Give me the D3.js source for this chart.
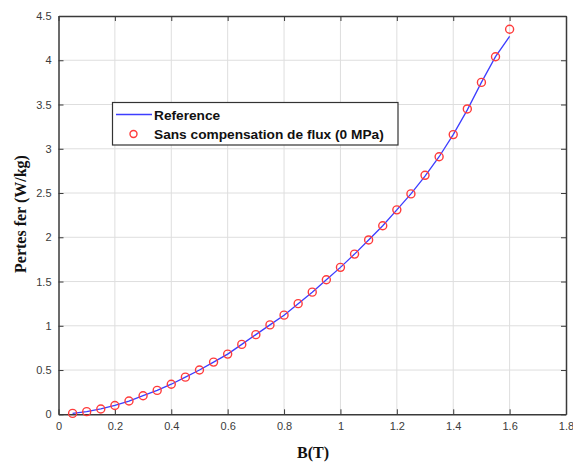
<!DOCTYPE html>
<html>
<head>
<meta charset="utf-8">
<script src="https://cdn.jsdelivr.net/npm/d3@7"></script>
<style>
html,body{margin:0;padding:0;background:#fff;}
svg{display:block;}
</style>
</head>
<body>
<script>
const bValues = [0.05,0.10,0.15,0.20,0.25,0.30,0.35,0.40,0.45,0.50,0.55,0.60,0.65,0.70,0.75,0.80,0.85,0.90,0.95,1.00,1.05,1.10,1.15,1.20,1.25,1.30,1.35,1.40,1.45,1.50,1.55,1.60];
const referenceLosses = [0.01,0.03,0.06,0.10,0.15,0.21,0.27,0.34,0.42,0.50,0.59,0.68,0.79,0.90,1.01,1.12,1.25,1.38,1.52,1.66,1.81,1.97,2.13,2.31,2.49,2.69,2.91,3.16,3.44,3.75,4.04,4.27];
const sansCompLosses = [0.01,0.03,0.06,0.10,0.15,0.21,0.27,0.34,0.42,0.50,0.59,0.68,0.79,0.90,1.01,1.12,1.25,1.38,1.52,1.66,1.81,1.97,2.13,2.31,2.49,2.70,2.91,3.16,3.45,3.75,4.04,4.35];
const xTicks = [0,0.2,0.4,0.6,0.8,1,1.2,1.4,1.6,1.8];
const xTickLabels = ["0","0.2","0.4","0.6","0.8","1","1.2","1.4","1.6","1.8"];
const yTicks = [0,0.5,1,1.5,2,2.5,3,3.5,4,4.5];
const yTickLabels = ["0","0.5","1","1.5","2","2.5","3","3.5","4","4.5"];
const seriesNames = ["Reference","Sans compensation de flux (0 MPa)"];

const W=573,H=464;
const L=58.5,R=566,T=16,B=414.3;
const svg=d3.select("body").append("svg").attr("width",W).attr("height",H);
const x=d3.scaleLinear().domain([0,1.8]).range([L,R]);
const y=d3.scaleLinear().domain([0,4.5]).range([B,T]);

// grid
const g=svg.append("g");
g.selectAll(".gx").data(xTicks.slice(1,-1)).enter().append("line")
 .attr("x1",d=>x(d)).attr("x2",d=>x(d)).attr("y1",T).attr("y2",B)
 .attr("stroke","#dedede").attr("stroke-width",1);
g.selectAll(".gy").data(yTicks.slice(1,-1)).enter().append("line")
 .attr("y1",d=>y(d)).attr("y2",d=>y(d)).attr("x1",L).attr("x2",R)
 .attr("stroke","#dedede").attr("stroke-width",1);

// axes
const axColor="#3a3a3a";
const fmtX=(d,i)=>xTickLabels[i], fmtY=(d,i)=>yTickLabels[i];
const axB=svg.append("g").attr("transform",`translate(0,${B})`)
 .call(d3.axisBottom(x).tickValues(xTicks).tickFormat(fmtX).tickSizeInner(-5).tickSizeOuter(0).tickPadding(8));
const axT=svg.append("g").attr("transform",`translate(0,${T})`)
 .call(d3.axisTop(x).tickValues(xTicks).tickFormat("").tickSizeInner(-5).tickSizeOuter(0));
const axL=svg.append("g").attr("transform",`translate(${L},0)`)
 .call(d3.axisLeft(y).tickValues(yTicks).tickFormat(fmtY).tickSizeInner(-5).tickSizeOuter(0).tickPadding(7));
const axR=svg.append("g").attr("transform",`translate(${R},0)`)
 .call(d3.axisRight(y).tickValues(yTicks).tickFormat("").tickSizeInner(-5).tickSizeOuter(0));
[axB,axT,axL,axR].forEach(a=>{
  a.selectAll("path").attr("stroke",axColor).attr("stroke-width",1.5);
  a.selectAll("line").attr("stroke",axColor).attr("stroke-width",1);
  a.selectAll("text").attr("fill","#3b3b3b").style("font-family","'Liberation Sans',Arial,sans-serif").style("font-size","11px");
});

// reference line
const line=d3.line().x((d,i)=>x(bValues[i])).y(d=>y(d));
svg.append("path").datum(referenceLosses).attr("d",line)
 .attr("fill","none").attr("stroke","#3d3dff").attr("stroke-width",1.3);

// markers
svg.selectAll(".pt").data(sansCompLosses).enter().append("circle")
 .attr("cx",(d,i)=>x(bValues[i])).attr("cy",d=>y(d)).attr("r",4)
 .attr("fill","none").attr("stroke","#ff3b3b").attr("stroke-width",1.4);

// legend
const lg=svg.append("g");
lg.append("rect").attr("x",112.5).attr("y",102.5).attr("width",285.5).attr("height",42.5)
 .attr("fill","#fff").attr("stroke","#333").attr("stroke-width",1.2);
lg.append("line").attr("x1",116).attr("x2",152).attr("y1",114.5).attr("y2",114.5)
 .attr("stroke","#3d3dff").attr("stroke-width",1.3);
lg.append("circle").attr("cx",133.5).attr("cy",134).attr("r",3.5)
 .attr("fill","none").attr("stroke","#ff3b3b").attr("stroke-width",1.4);
lg.selectAll("text").data(seriesNames).enter().append("text")
 .attr("x",154).attr("y",(d,i)=>119.5+i*19)
 .attr("fill","#111").style("font-family","'Liberation Sans',Arial,sans-serif")
 .style("font-size","13.7px").style("font-weight","bold").text(d=>d);

// axis labels
svg.append("text").attr("x",313).attr("y",458).attr("text-anchor","middle")
 .style("font-family","'Liberation Serif','Times New Roman',serif").style("font-weight","bold").style("font-size","16px")
 .attr("fill","#111").text("B(T)");
svg.append("text").attr("transform","translate(26,214) rotate(-90)").attr("text-anchor","middle")
 .style("font-family","'Liberation Serif','Times New Roman',serif").style("font-weight","bold").style("font-size","16px")
 .attr("fill","#111").text("Pertes fer (W/kg)");
</script>
</body>
</html>
